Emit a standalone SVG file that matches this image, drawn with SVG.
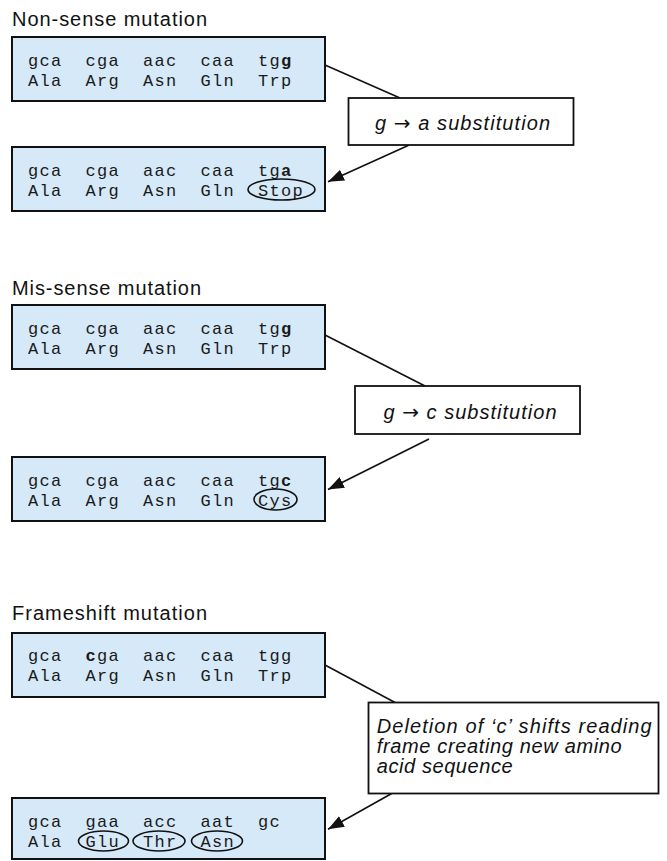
<svg xmlns="http://www.w3.org/2000/svg" width="667" height="861" viewBox="0 0 667 861">
<style>
.title{font-family:"Liberation Sans",Arial,sans-serif;font-size:20px;fill:#111}
.seq{font-family:"Liberation Mono","Courier New",monospace;font-size:17px;letter-spacing:1.3px;fill:#1a1a1a;white-space:pre}
.box{fill:#d6e9f8;stroke:#111;stroke-width:2}
.lbl{fill:#fff;stroke:#111;stroke-width:1.8}
.lt{font-family:"Liberation Sans",Arial,sans-serif;font-size:20px;font-style:italic;fill:#111}
.arr{font-family:"DejaVu Sans",sans-serif;font-style:normal}
.ring{fill:none;stroke:#111;stroke-width:1.6}
.con{stroke:#111;stroke-width:1.6;fill:none}
.b{font-weight:bold}
</style>
<defs>
<marker id="ah" markerUnits="userSpaceOnUse" markerWidth="18" markerHeight="14" refX="16" refY="6" orient="auto">
<path d="M0,0 L16,6 L0,12 Z" fill="#111"/>
</marker>
</defs>

<g id="connectors">
<line class="con" x1="325" y1="65" x2="400" y2="98"/>
<line class="con" x1="408.7" y1="145.3" x2="328" y2="181.7" marker-end="url(#ah)"/>
<line class="con" x1="325" y1="335" x2="425" y2="386"/>
<line class="con" x1="429" y1="439" x2="328" y2="489.5" marker-end="url(#ah)"/>
<line class="con" x1="325" y1="665" x2="395" y2="702.5"/>
<line class="con" x1="391.7" y1="793.5" x2="328" y2="829.3" marker-end="url(#ah)"/>
</g>

<g id="section1">
<text class="title" x="12" y="26" textLength="195" lengthAdjust="spacing">Non-sense mutation</text>
</g>
<g id="box1">
<rect class="box" x="12" y="37" width="313" height="64"/>
<text class="seq" x="28" y="66" xml:space="preserve">gca  cga  aac  caa  tg<tspan class="b">g</tspan></text>
<text class="seq" x="28" y="85.5" xml:space="preserve">Ala  Arg  Asn  Gln  Trp</text>
</g>
<g id="label1">
<rect class="lbl" x="348.5" y="98" width="225" height="47"/>
<text class="lt" x="462.5" y="129.5" text-anchor="middle" textLength="175" lengthAdjust="spacing">g <tspan class="arr">→</tspan> a substitution</text>
</g>
<g id="box2">
<rect class="box" x="12" y="147" width="313" height="64"/>
<text class="seq" x="28" y="176" xml:space="preserve">gca  cga  aac  caa  tg<tspan class="b">a</tspan></text>
<text class="seq" x="28" y="195.5" xml:space="preserve">Ala  Arg  Asn  Gln  Stop</text>
<ellipse class="ring" cx="281.5" cy="189.5" rx="33.5" ry="10.5"/>
</g>

<g id="section2">
<text class="title" x="12" y="295" textLength="189" lengthAdjust="spacing">Mis-sense mutation</text>
</g>
<g id="box3">
<rect class="box" x="12" y="305" width="313" height="64"/>
<text class="seq" x="28" y="334" xml:space="preserve">gca  cga  aac  caa  tg<tspan class="b">g</tspan></text>
<text class="seq" x="28" y="353.5" xml:space="preserve">Ala  Arg  Asn  Gln  Trp</text>
</g>
<g id="label2">
<rect class="lbl" x="355" y="386" width="225" height="48"/>
<text class="lt" x="470" y="418.5" text-anchor="middle" textLength="173" lengthAdjust="spacing">g <tspan class="arr">→</tspan> c substitution</text>
</g>
<g id="box4">
<rect class="box" x="12" y="457" width="313" height="64"/>
<text class="seq" x="28" y="486" xml:space="preserve">gca  cga  aac  caa  tg<tspan class="b">c</tspan></text>
<text class="seq" x="28" y="505.5" xml:space="preserve">Ala  Arg  Asn  Gln  Cys</text>
<ellipse class="ring" cx="275.5" cy="499.5" rx="21.5" ry="10.5"/>
</g>

<g id="section3">
<text class="title" x="12" y="620" textLength="195" lengthAdjust="spacing">Frameshift mutation</text>
</g>
<g id="box5">
<rect class="box" x="12" y="633" width="313" height="64"/>
<text class="seq" x="28" y="661" xml:space="preserve">gca  <tspan class="b">c</tspan>ga  aac  caa  tgg</text>
<text class="seq" x="28" y="681" xml:space="preserve">Ala  Arg  Asn  Gln  Trp</text>
</g>
<g id="label3">
<rect class="lbl" x="368.5" y="702.5" width="290" height="91"/>
<text class="lt" x="376.7" y="732.7" textLength="275" lengthAdjust="spacing">Deletion of  ‘c’ shifts reading</text>
<text class="lt" x="376.7" y="752.7" textLength="245" lengthAdjust="spacing">frame creating new amino</text>
<text class="lt" x="376.7" y="772.7" textLength="136" lengthAdjust="spacing">acid sequence</text>
</g>
<g id="box6">
<rect class="box" x="12" y="798" width="313" height="61"/>
<text class="seq" x="28" y="826.5" xml:space="preserve">gca  gaa  acc  aat  gc</text>
<text class="seq" x="28" y="846.5" xml:space="preserve">Ala  Glu  Thr  Asn</text>
<ellipse class="ring" cx="103.5" cy="841" rx="25" ry="10"/>
<ellipse class="ring" cx="159" cy="841" rx="26" ry="10"/>
<ellipse class="ring" cx="217" cy="841" rx="25.5" ry="10"/>
</g>
</svg>
